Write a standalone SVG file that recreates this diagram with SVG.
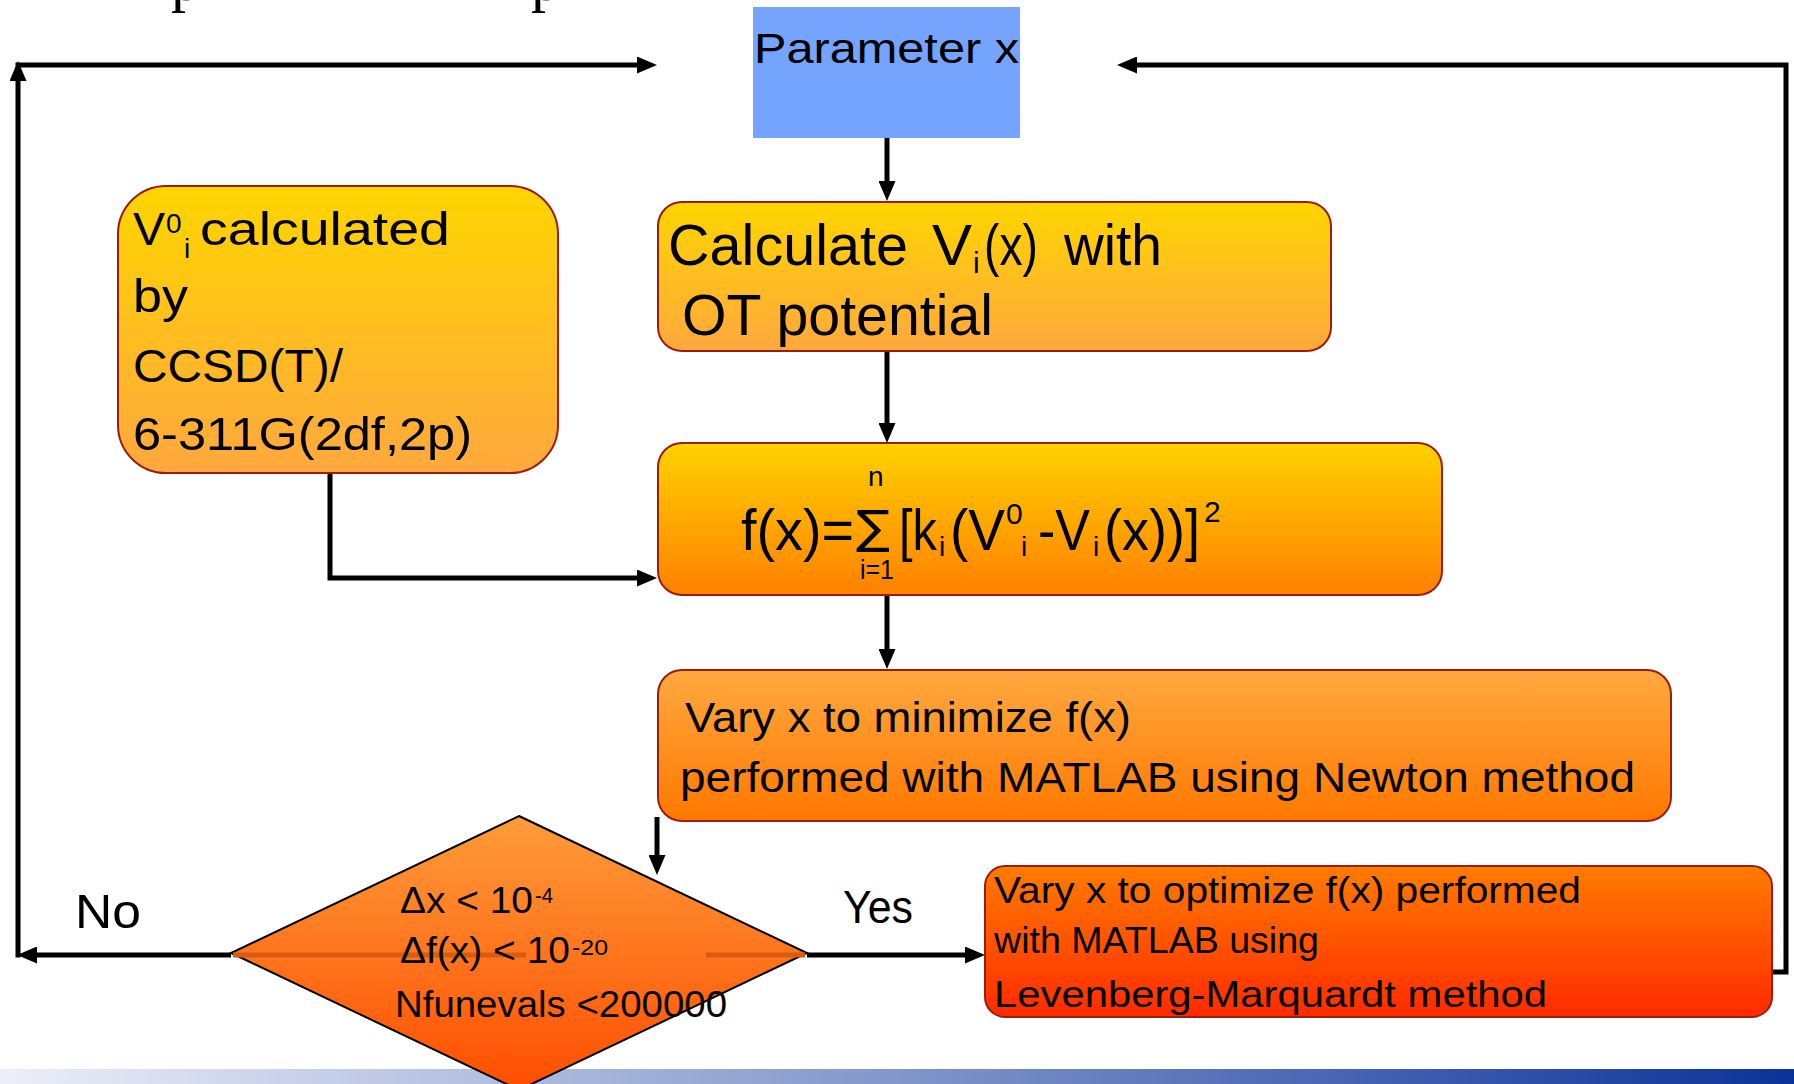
<svg xmlns="http://www.w3.org/2000/svg" width="1794" height="1084" viewBox="0 0 1794 1084">
<style>
text{font-family:"Liberation Sans",Arial,sans-serif;fill:#000}
.box{stroke:#9a1e10;stroke-width:2}
.conn{fill:none;stroke:#000;stroke-width:5}
.ghost{fill:none;stroke:#d95a12;stroke-width:5}
.t58{font-size:58px}
.t46{font-size:46px}
.t42{font-size:42px}
.t37{font-size:37px}
.t36{font-size:36px}
.s30{font-size:30px}
.s28{font-size:28px}
.s26{font-size:26px}
.s22{font-size:22px}
</style>
<defs>
<linearGradient id="gYel" x1="0" y1="0" x2="0" y2="1"><stop offset="0" stop-color="#ffd500"/><stop offset="1" stop-color="#ffa83e"/></linearGradient>
<linearGradient id="gF" x1="0" y1="0" x2="0" y2="1"><stop offset="0" stop-color="#ffd200"/><stop offset="1" stop-color="#ff8000"/></linearGradient>
<linearGradient id="gVary" x1="0" y1="0" x2="0" y2="1"><stop offset="0" stop-color="#ffa940"/><stop offset="1" stop-color="#ff7800"/></linearGradient>
<linearGradient id="gLM" x1="0" y1="0" x2="0" y2="1"><stop offset="0" stop-color="#ff7c00"/><stop offset="1" stop-color="#ff2a00"/></linearGradient>
<linearGradient id="gDia" x1="0" y1="0" x2="0" y2="1"><stop offset="0" stop-color="#ff9c3a"/><stop offset="1" stop-color="#ff4e00"/></linearGradient>
<linearGradient id="gBar" x1="0" y1="0" x2="1" y2="0"><stop offset="0" stop-color="#eceff8"/><stop offset="0.5" stop-color="#8296cc"/><stop offset="1" stop-color="#0a3399"/></linearGradient>
<marker id="arr" markerUnits="userSpaceOnUse" markerWidth="20" markerHeight="17" refX="6" refY="8.5" orient="auto"><path d="M0,0 L20,8.5 L0,17 z" fill="#000"/></marker>
</defs>
<rect width="1794" height="1084" fill="#fff"/>
<g id="title-fragments">
<text x="171" y="0" style="font-family:'Liberation Serif','Times New Roman',serif;font-size:60px">p</text>
<text x="531" y="0" style="font-family:'Liberation Serif','Times New Roman',serif;font-size:60px">p</text>
</g>
<rect id="bottom-bar" x="0" y="1069" width="1794" height="15" fill="url(#gBar)"/>
<g id="connectors">
<path class="conn" d="M887,138 V187" marker-end="url(#arr)"/>
<path class="conn" d="M887,351 V429" marker-end="url(#arr)"/>
<path class="conn" d="M330,473 V578 H643" marker-end="url(#arr)"/>
<path class="conn" d="M887,595 V655" marker-end="url(#arr)"/>
<path class="conn" d="M657,817 V861" marker-end="url(#arr)"/>
<path class="conn" d="M231,955 H31" marker-end="url(#arr)"/>
<path class="conn" d="M18,957.5 V75" marker-end="url(#arr)"/>
<path class="conn" d="M15.5,65 H643" marker-end="url(#arr)"/>
<path class="conn" d="M807,955 H971" marker-end="url(#arr)"/>
<path class="conn" d="M1772,972 H1786 V65 H1131" marker-end="url(#arr)"/>
</g>
<g id="node-param">
<rect x="753" y="7" width="267" height="131" fill="#74a4fe"/>
<text x="754" y="63" style="font-size:43px" textLength="265" lengthAdjust="spacingAndGlyphs">Parameter x</text>
</g>
<g id="node-v0">
<rect class="box" x="118" y="186" width="440" height="287" rx="48" fill="url(#gYel)"/>
<text class="t46" x="133" y="245" textLength="32" lengthAdjust="spacingAndGlyphs">V</text>
<text class="s28" x="166" y="233">0</text>
<text class="s28" x="184" y="258">i</text>
<text class="t46" x="200" y="245" textLength="250" lengthAdjust="spacingAndGlyphs">calculated</text>
<text class="t46" x="133" y="312" textLength="55" lengthAdjust="spacingAndGlyphs">by</text>
<text class="t46" x="133" y="382" textLength="210" lengthAdjust="spacingAndGlyphs">CCSD(T)/</text>
<text class="t46" x="133" y="450" textLength="339" lengthAdjust="spacingAndGlyphs">6-311G(2df,2p)</text>
</g>
<g id="node-calc">
<rect class="box" x="658" y="202" width="673" height="149" rx="24" fill="url(#gYel)"/>
<text class="t58" x="668" y="265" textLength="240" lengthAdjust="spacingAndGlyphs">Calculate</text>
<text class="t58" x="932" y="265" textLength="40" lengthAdjust="spacingAndGlyphs">V</text>
<text class="s30" x="973" y="273">i</text>
<text class="t58" x="984" y="265" textLength="54" lengthAdjust="spacingAndGlyphs">(x)</text>
<text class="t58" x="1064" y="265" textLength="98" lengthAdjust="spacingAndGlyphs">with</text>
<text class="t58" x="682" y="335" textLength="311" lengthAdjust="spacingAndGlyphs">OT potential</text>
</g>
<g id="node-fx">
<rect class="box" x="658" y="443" width="784" height="152" rx="24" fill="url(#gF)"/>
<text x="741" y="550" style="font-size:58px" textLength="113" lengthAdjust="spacingAndGlyphs">f(x)=</text>
<text x="856" y="543" style="font-family:'DejaVu Sans',sans-serif;font-size:46px" textLength="34" lengthAdjust="spacingAndGlyphs">∑</text>
<text class="s28" x="868" y="486">n</text>
<text class="s28" x="860" y="579" textLength="34" lengthAdjust="spacingAndGlyphs">i=1</text>
<text x="899" y="550" style="font-size:58px" textLength="38" lengthAdjust="spacingAndGlyphs">[k</text>
<text class="s28" x="939" y="556">i</text>
<text x="950" y="550" style="font-size:58px" textLength="55" lengthAdjust="spacingAndGlyphs">(V</text>
<text class="s30" x="1006" y="524">0</text>
<text class="s28" x="1021" y="556">i</text>
<text x="1038" y="550" style="font-size:58px" textLength="52" lengthAdjust="spacingAndGlyphs">-V</text>
<text class="s28" x="1093" y="556">i</text>
<text x="1104" y="550" style="font-size:58px" textLength="96" lengthAdjust="spacingAndGlyphs">(x))]</text>
<text class="s30" x="1204" y="522">2</text>
</g>
<g id="node-vary">
<rect class="box" x="658" y="670" width="1013" height="151" rx="24" fill="url(#gVary)"/>
<text class="t42" x="685" y="732" textLength="446" lengthAdjust="spacingAndGlyphs">Vary x to minimize f(x)</text>
<text class="t42" x="680" y="792" textLength="955" lengthAdjust="spacingAndGlyphs">performed with MATLAB using Newton method</text>
</g>
<g id="node-decision">
<polygon points="519,816 807,953 519,1090 231,953" fill="url(#gDia)" stroke="#000" stroke-width="2"/>
<path class="ghost" d="M233,955 H526 M706,955 H805"/>
<text class="t36" x="400" y="913" textLength="133" lengthAdjust="spacingAndGlyphs">Δx &lt; 10</text>
<text class="s22" x="535" y="903" textLength="18" lengthAdjust="spacingAndGlyphs">-4</text>
<text class="t36" x="400" y="963" textLength="170" lengthAdjust="spacingAndGlyphs">Δf(x) &lt; 10</text>
<text class="s22" x="572" y="955" textLength="36" lengthAdjust="spacingAndGlyphs">-20</text>
<text class="t36" x="395" y="1017" textLength="332" lengthAdjust="spacingAndGlyphs">Nfunevals &lt;200000</text>
</g>
<g id="node-lm">
<rect class="box" x="985" y="866" width="787" height="151" rx="20" fill="url(#gLM)"/>
<text class="t37" x="994" y="903" textLength="587" lengthAdjust="spacingAndGlyphs">Vary x to optimize f(x) performed</text>
<text class="t37" x="994" y="953" textLength="325" lengthAdjust="spacingAndGlyphs">with MATLAB using</text>
<text class="t37" x="994" y="1007" textLength="553" lengthAdjust="spacingAndGlyphs">Levenberg-Marquardt method</text>
</g>
<g id="labels">
<text x="75" y="928" style="font-size:48px" textLength="66" lengthAdjust="spacingAndGlyphs">No</text>
<text x="843" y="923" style="font-size:46px" textLength="70" lengthAdjust="spacingAndGlyphs">Yes</text>
</g>
</svg>
